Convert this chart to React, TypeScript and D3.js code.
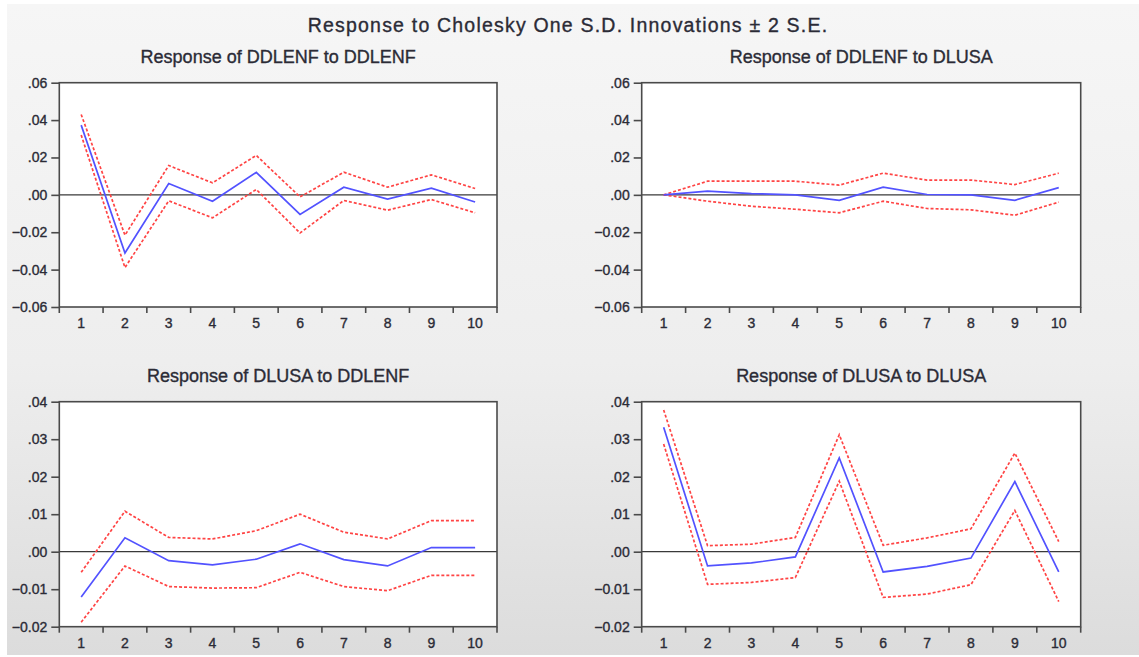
// Impulse response grid (EViews style)
import React, { useRef, useEffect } from "react";
import * as d3 from "d3";

const periods = ["1", "2", "3", "4", "5", "6", "7", "8", "9", "10"];

const mainTitle = "Response to Cholesky One S.D. Innovations \u00b1 2 S.E.";
const panelTitles = [
  "Response of DDLENF to DDLENF",
  "Response of DDLENF to DLUSA",
  "Response of DLUSA to DDLENF",
  "Response of DLUSA to DLUSA",
];

// y axis ticks for the two rows
const topTicks = [-0.06, -0.04, -0.02, 0, 0.02, 0.04, 0.06];
const bottomTicks = [-0.02, -0.01, 0, 0.01, 0.02, 0.03, 0.04];

// DDLENF to DDLENF
const enfEnf = [0.0373, -0.0311, 0.0061, -0.0034, 0.012, -0.0105, 0.0041, -0.0023, 0.0036, -0.0038];
const enfEnfUp = [0.043, -0.0216, 0.0157, 0.0064, 0.0211, -0.0011, 0.0121, 0.0041, 0.0107, 0.0034];
const enfEnfLo = [0.032, -0.0389, -0.0032, -0.0123, 0.0029, -0.0204, -0.003, -0.0082, -0.0025, -0.0096];

// DDLENF to DLUSA
const enfUsa = [0, 0.002, 0.0007, 0, -0.0029, 0.0041, 0.0002, 0, -0.0029, 0.0039];
const enfUsaUp = [0, 0.0073, 0.0073, 0.0073, 0.0052, 0.0116, 0.0079, 0.0079, 0.0055, 0.0116];
const enfUsaLo = [0, -0.0034, -0.0061, -0.0077, -0.0096, -0.0034, -0.0073, -0.008, -0.0109, -0.0039];

// DLUSA to DDLENF
const usaEnf = [-0.0121, 0.0037, -0.0024, -0.0035, -0.002, 0.0021, -0.0021, -0.0038, 0.0011, 0.0011];
const usaEnfUp = [-0.0055, 0.0108, 0.0038, 0.0034, 0.0056, 0.01, 0.0052, 0.0034, 0.0083, 0.0083];
const usaEnfLo = [-0.0188, -0.0038, -0.0093, -0.0097, -0.0096, -0.0055, -0.0093, -0.0104, -0.0063, -0.0063];

// DLUSA to DLUSA
const usaUsa = [0.0332, -0.0038, -0.003, -0.0014, 0.025, -0.0054, -0.0039, -0.0017, 0.0187, -0.0054];
const usaUsaUp = [0.0378, 0.0016, 0.002, 0.0038, 0.0312, 0.0017, 0.0037, 0.0061, 0.0263, 0.0027];
const usaUsaLo = [0.0287, -0.0087, -0.0082, -0.0069, 0.0188, -0.0122, -0.0113, -0.0088, 0.011, -0.0133];

const FONT = "'Liberation Sans', Arial, sans-serif";
const TEXT = "#2b2b36";

const App: React.FC = () => {
  const svgRef = useRef<SVGSVGElement | null>(null);
  const width = 1139;
  const height = 657;

  useEffect(() => {
    if (!svgRef.current) return;
    const svg = d3.select(svgRef.current);
    svg.selectAll("*").remove();

    // Background gradient
    const defs = svg.append("defs");
    const grad = defs
      .append("linearGradient")
      .attr("id", "bg")
      .attr("x1", 0)
      .attr("y1", 0)
      .attr("x2", 0)
      .attr("y2", 1);
    grad.append("stop").attr("offset", "0%").attr("stop-color", "#f6f6f6");
    grad.append("stop").attr("offset", "55%").attr("stop-color", "#eeeeee");
    grad.append("stop").attr("offset", "100%").attr("stop-color", "#dcdcdc");

    svg.append("rect").attr("width", width).attr("height", height).attr("fill", "#ffffff");
    svg
      .append("rect")
      .attr("x", 7)
      .attr("y", 4)
      .attr("width", width - 7)
      .attr("height", 651)
      .attr("fill", "url(#bg)");

    // text helper: slightly heavier look, like the blurred original
    const styleText = (sel: any, size: number) =>
      sel
        .attr("font-family", FONT)
        .attr("font-size", size)
        .attr("fill", TEXT)
        .attr("stroke", TEXT)
        .attr("stroke-width", 0.35);

    // Main title
    svg
      .append("text")
      .attr("x", 568)
      .attr("y", 31.5)
      .attr("text-anchor", "middle")
      .attr("letter-spacing", 1.2)
      .call(styleText, 19.5)
      .text(mainTitle);

    // Panel layout
    const cols = [
      { left: 59.3, right: 497 },
      { left: 641.7, right: 1080.7 },
    ];
    const rows = [
      { top: 82.7, bottom: 307, ticks: topTicks, titleY: 63 },
      { top: 401.7, bottom: 626.7, ticks: bottomTicks, titleY: 382 },
    ];

    const panels = [
      { resp: enfEnf, up: enfEnfUp, lo: enfEnfLo },
      { resp: enfUsa, up: enfUsaUp, lo: enfUsaLo },
      { resp: usaEnf, up: usaEnfUp, lo: usaEnfLo },
      { resp: usaUsa, up: usaUsaUp, lo: usaUsaLo },
    ];

    const fmt = (d: number) => {
      const s = d3.format(".2f")(d);
      return s.replace(/^(-?)0\./, "$1.");
    };

    panels.forEach((p, i) => {
      const col = cols[i % 2];
      const row = rows[Math.floor(i / 2)];
      const ticks = row.ticks;

      const x = d3
        .scaleBand()
        .domain(periods)
        .range([col.left, col.right])
        .paddingInner(0)
        .paddingOuter(0);
      const y = d3
        .scaleLinear()
        .domain([ticks[0], ticks[ticks.length - 1]])
        .range([row.bottom, row.top]);

      const g = svg.append("g").attr("class", `panel-${i}`);

      // plot area
      g.append("rect")
        .attr("x", col.left)
        .attr("y", row.top)
        .attr("width", col.right - col.left)
        .attr("height", row.bottom - row.top)
        .attr("fill", "#ffffff");

      // title
      g.append("text")
        .attr("x", (col.left + col.right) / 2)
        .attr("y", row.titleY)
        .attr("text-anchor", "middle")
        .call(styleText, 18)
        .text(panelTitles[i]);

      // zero line
      g.append("line")
        .attr("x1", col.left)
        .attr("x2", col.right)
        .attr("y1", y(0))
        .attr("y2", y(0))
        .attr("stroke", "#3a3a3a")
        .attr("stroke-width", 1.3);

      const line = d3
        .line<number>()
        .x((_d, k) => (x(periods[k]) as number) + x.bandwidth() / 2)
        .y((d) => y(d));

      [p.up, p.lo].forEach((band) => {
        g.append("path")
          .datum(band)
          .attr("d", line)
          .attr("fill", "none")
          .attr("stroke", "#ff4444")
          .attr("stroke-width", 1.7)
          .attr("stroke-dasharray", "3,2");
      });

      g.append("path")
        .datum(p.resp)
        .attr("d", line)
        .attr("fill", "none")
        .attr("stroke", "#5252ff")
        .attr("stroke-width", 1.7);

      // frame
      g.append("rect")
        .attr("x", col.left)
        .attr("y", row.top)
        .attr("width", col.right - col.left)
        .attr("height", row.bottom - row.top)
        .attr("fill", "none")
        .attr("stroke", "#4a4a4a")
        .attr("stroke-width", 1.6);

      // y axis
      const yAxis = d3
        .axisLeft(y)
        .tickValues(ticks)
        .tickSize(8)
        .tickPadding(4)
        .tickFormat((d) => fmt(d as number));
      const ya = g
        .append("g")
        .attr("transform", `translate(${col.left},0)`)
        .call(yAxis);
      ya.select(".domain").remove();
      ya.selectAll("line").attr("stroke", "#4a4a4a").attr("stroke-width", 1.6);
      ya.selectAll("text").call(styleText, 14);

      // x axis labels (centred in bands)
      const xAxis = d3.axisBottom(x).tickSize(0).tickPadding(11);
      const xa = g
        .append("g")
        .attr("transform", `translate(0,${row.bottom})`)
        .call(xAxis);
      xa.select(".domain").remove();
      xa.selectAll("text").call(styleText, 14);

      // x tick marks on band boundaries
      g.append("g")
        .selectAll("line")
        .data(d3.range(periods.length + 1))
        .join("line")
        .attr("x1", (k) => col.left + k * x.step())
        .attr("x2", (k) => col.left + k * x.step())
        .attr("y1", row.bottom)
        .attr("y2", row.bottom + 6)
        .attr("stroke", "#4a4a4a")
        .attr("stroke-width", 1.6);
    });
  }, []);

  return (
    <svg
      ref={svgRef}
      width={width}
      height={height}
      style={{ position: "absolute", left: 0, top: 0, display: "block" }}
    />
  );
};

export default App;
